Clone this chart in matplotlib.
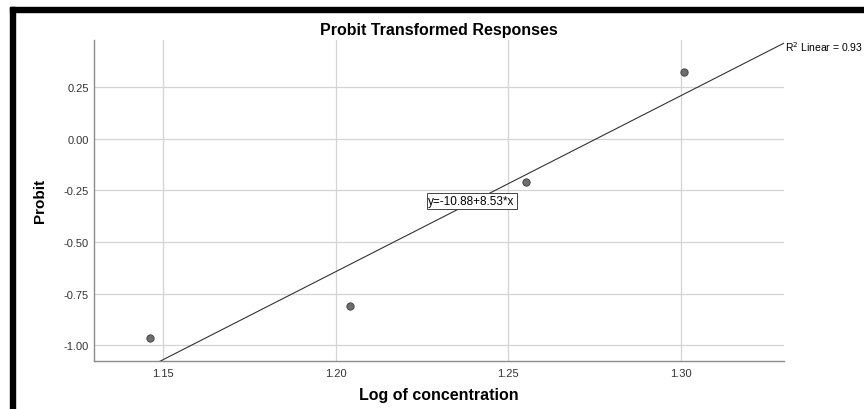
import numpy as np
import matplotlib
matplotlib.use("Agg")
import matplotlib.pyplot as plt
from matplotlib.patches import Rectangle

plt.rcParams['font.family'] = ['Liberation Sans', 'DejaVu Sans']

# data: log10 of concentration vs probit
log_conc = [1.1461, 1.2041, 1.2553, 1.3010]
probit = [-0.967, -0.812, -0.210, 0.323]
intercept = -10.88
slope = 8.53
r2 = 0.93
x_ticks = [1.15, 1.20, 1.25, 1.30]
y_ticks = [-1.00, -0.75, -0.50, -0.25, 0.00, 0.25]

fig = plt.figure(figsize=(8.64, 4.10), dpi=100)
ax = fig.add_axes([0.1092, 0.1178, 0.7982, 0.7822])

xlim = (1.130, 1.330)
ylim = (-1.076, 0.48)

# fit line
xs = np.array(xlim)
ax.plot(xs, intercept + slope * xs, color='#333333', lw=0.8, zorder=3)

ax.scatter(log_conc, probit, s=28, color='#6e6e6e', edgecolor='#3a3a3a',
           linewidth=0.6, zorder=4)

ax.set_xlim(*xlim)
ax.set_ylim(*ylim)
ax.set_xticks(x_ticks)
ax.set_xticklabels(['%.2f' % v for v in x_ticks])
ax.set_yticks(y_ticks)
ax.set_yticklabels(['%.2f' % v for v in y_ticks])
ax.tick_params(axis='y', length=0, labelsize=8, labelcolor='#333333', pad=4)
ax.tick_params(axis='x', length=0, labelsize=8, labelcolor='#333333', pad=5)
ax.grid(True, color='#d4d4d4', lw=0.9)
ax.set_axisbelow(True)
for s in ['top', 'right']:
    ax.spines[s].set_visible(False)
for s in ['left', 'bottom']:
    ax.spines[s].set_color('#8c8c8c')
    ax.spines[s].set_linewidth(1.0)

ax.set_title('Probit Transformed Responses', fontsize=11.5, fontweight='bold',
             pad=4)
ax.set_xlabel('Log of concentration', fontsize=11.5, fontweight='bold',
              labelpad=7)
ax.set_ylabel('Probit', fontsize=11, fontweight='bold', labelpad=12)

ax.text(1.2394, -0.302, 'y=-10.88+8.53*x', fontsize=8.5, ha='center',
        va='center', zorder=5,
        bbox=dict(boxstyle='square,pad=0.15', fc='white', ec='#444444', lw=0.7))

y_end = intercept + slope * xlim[1]
ax.text(xlim[1] + 0.0003, y_end - 0.015, 'R$^2$ Linear = %.2f' % r2,
        fontsize=7.5, ha='left', va='center', clip_on=False)

# black frame (left and top)
fig.patches.append(Rectangle((10 / 864, 0), 5 / 864, 1 - 8 / 410,
                             transform=fig.transFigure, color='black'))
fig.patches.append(Rectangle((10 / 864, 1 - 12.5 / 410), 1 - 10 / 864, 4.5 / 410,
                             transform=fig.transFigure, color='black'))

fig.savefig('out.png', dpi=100)
